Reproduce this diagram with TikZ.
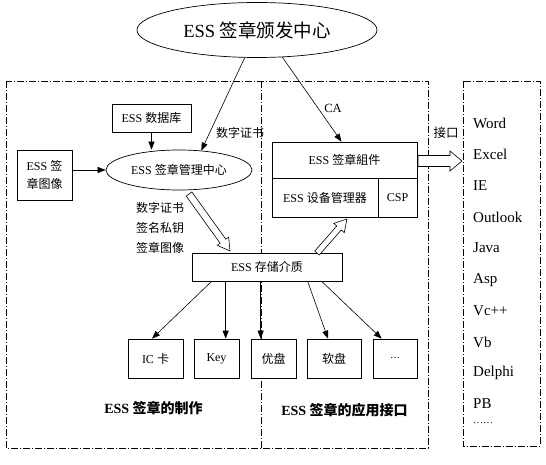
\documentclass[tikz,border=0pt]{standalone}
\usepackage{fontspec}
\setmainfont{Liberation Serif}
\newfontfamily\cjk{Noto Sans CJK SC}
\usetikzlibrary{arrows.meta,shapes.geometric,calc}
\newcommand\hollowarr[6]{%
  \begin{scope}[shift={#1}, rotate=#2]
    \draw[hollow] (0,-#4) -- ({#3-#6},-#4) -- ({#3-#6},-#5) -- (#3,0) -- ({#3-#6},#5) -- ({#3-#6},#4) -- (0,#4) -- cycle;
  \end{scope}}
\tikzset{
  box/.style={draw, line width=0.7pt, fill=white, inner sep=0pt, font=\fontsize{12}{14}\selectfont},
  zone/.style={line width=0.6pt, dash pattern=on 7pt off 2pt on 1pt off 2pt},
  arr/.style={line width=0.6pt, -{Triangle[length=8pt,width=6pt]}},
  hollow/.style={draw, line width=0.6pt, fill=white},
  lbl/.style={inner sep=0pt, font=\fontsize{12}{14}\selectfont},
  item/.style={anchor=west, inner sep=0pt, font=\fontsize{15}{17}\selectfont},
  bold/.style={inner sep=0pt, font=\fontsize{14}{16}\selectfont\bfseries},
}
\begin{document}
\begin{tikzpicture}[x=1pt, y=-1pt]
\useasboundingbox (0,0) rectangle (546,465);
% zones
\draw[zone] (6,81) rectangle (428,448);
\draw[zone] (261,81) -- (261,448);
\draw[zone] (463,81) rectangle (540,446);
% nodes
\node[draw, ellipse, line width=0.7pt, fill=white, minimum width=240pt, minimum height=55pt, inner sep=0pt, font=\fontsize{18.5}{20}\selectfont] (ca) at (257,30) {ESS {\cjk 签章颁发中心}};
\node[box, minimum width=79pt, minimum height=28pt] (db) at (151.5,118) {ESS {\cjk 数据库}};
\node[box, minimum width=55pt, minimum height=50pt, align=center] (img) at (44.5,175) {ESS {\cjk 签}\\[4pt]{\cjk 章图像}};
\node[box, ellipse, minimum width=146pt, minimum height=40pt] (mgmt) at (179,170) {ESS {\cjk 签章管理中心}};
\node[box, minimum width=150pt, minimum height=28pt] (store) at (267,267) {ESS {\cjk 存储介质}};
\node[box, minimum width=145pt, minimum height=36pt] (comp) at (344.5,160) {ESS {\cjk 签章組件}};
\node[box, minimum width=106pt, minimum height=39pt] (dev) at (325,197.5) {ESS {\cjk 设备管理器}};
\node[box, minimum width=39pt, minimum height=39pt] (csp) at (397.5,197.5) {CSP};
\node[box, minimum width=55pt, minimum height=39pt] (ic) at (155.5,358.5) {IC {\cjk 卡}};
\node[box, minimum width=45pt, minimum height=39pt] (key) at (216.5,358.5) {Key};
\node[box, minimum width=45pt, minimum height=39pt] (upan) at (273.5,358.5) {\cjk 优盘};
\node[box, minimum width=54pt, minimum height=39pt] (soft) at (334,358.5) {\cjk 软盘};
\node[box, minimum width=44pt, minimum height=39pt] (dots) at (395,358.5) {\fontsize{10}{12}\selectfont …};
% labels
\node[lbl] (lds) at (240,133) {\cjk 数字证书};
\node[lbl, font=\fontsize{12.5}{14}\selectfont] (lca) at (333,108) {CA};
\node[lbl, align=center, font=\fontsize{12}{20}\selectfont] (lcont) at (160,228) {\cjk 数字证书\\\cjk 签名私钥\\\cjk 签章图像};
\node[lbl, font=\fontsize{12.5}{14}\selectfont] (ljk) at (446,133) {\cjk 接口};
\node[bold] (t1) at (153.5,408) {ESS {\cjk 签章的制作}};
\node[bold] (t2) at (344.5,410) {ESS {\cjk 签章的应用接口}};
% right list
\node[item] (w1) at (473,123) {Word};
\node[item] (w2) at (473,154) {Excel};
\node[item] (w3) at (473,186) {IE};
\node[item] (w4) at (473,217) {Outlook};
\node[item] (w5) at (473,248) {Java};
\node[item] (w6) at (473,280) {Asp};
\node[item] (w7) at (473,311) {Vc++};
\node[item] (w8) at (473,342) {Vb};
\node[item] (w9) at (473,373) {Delphi};
\node[item] (w10) at (473,404) {PB};
\node[item, font=\fontsize{10}{12}\selectfont] (w11) at (473,423) {……};
% connectors
\draw[arr] (db.south) -- (db.south |- mgmt.north);
\draw[arr] (img.east |- mgmt.west) -- (mgmt.west);
\draw[arr] (ca.246) -- (mgmt.41);
\draw[arr] (ca.313) -- ($(comp.north)+(-3,0)$);
\coordinate (s1) at ($(store.south west)+(20,0)$);
\coordinate (s2) at ($(store.south west)+(34,0)$);
\coordinate (s3) at ($(store.south west)+(69,0)$);
\coordinate (s4) at ($(store.south west)+(116,0)$);
\coordinate (s5) at ($(store.south west)+(130,0)$);
\draw[arr] (s1) -- ($(ic.north)+(-3.5,0)$);
\draw[arr] (s2) -- (s2 |- key.north);
\draw[arr] (s3) -- (s3 |- upan.north);
\draw[arr] (s4) -- ($(soft.north)+(-6,0)$);
\draw[arr] (s5) -- ($(dots.north west)+(9,0)$);
% hollow arrows
\hollowarr{(189,194)}{-54.27}{70.2}{3.5}{7}{12}
\hollowarr{(317,253)}{48.6}{45.3}{3}{7}{12}
\hollowarr{(418,161)}{0}{44}{5.5}{10}{12}
\end{tikzpicture}
\end{document}
